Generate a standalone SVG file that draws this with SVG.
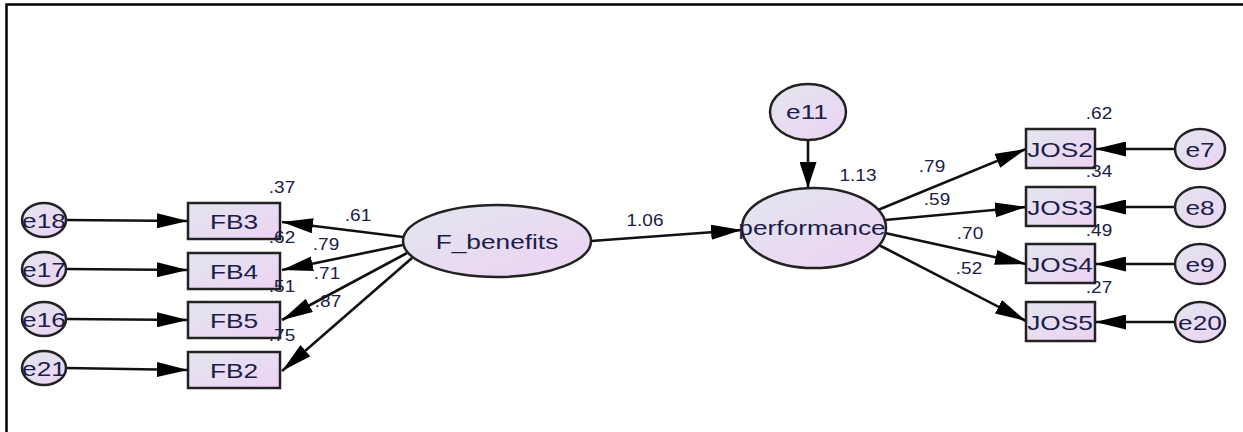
<svg xmlns="http://www.w3.org/2000/svg" width="1243" height="432" viewBox="0 0 1243 432">
  <defs>
    <linearGradient id="fillGrad" x1="0" y1="0" x2="1" y2="1">
      <stop offset="0" stop-color="#e2e6ee"/>
      <stop offset="1" stop-color="#edd2f4"/>
    </linearGradient>
    <marker id="arr" markerUnits="userSpaceOnUse" markerWidth="31" markerHeight="15" refX="31" refY="7.5" orient="auto">
      <path d="M0,0 L31,7.5 L0,15 z" fill="#000"/>
    </marker>
    <marker id="arrV" markerUnits="userSpaceOnUse" markerWidth="26" markerHeight="17" refX="26" refY="8.5" orient="auto">
      <path d="M0,0 L26,8.5 L0,17 z" fill="#000"/>
    </marker>
  </defs>
  <style>
    .shape { fill: url(#fillGrad); stroke: #222; stroke-width: 2.5; }
    .lbl { font-family: "Liberation Sans", Arial, sans-serif; font-size: 21px; fill: #1a2048; text-anchor: middle; }
    .num { font-family: "Liberation Sans", Arial, sans-serif; font-size: 16.5px; fill: #1a2048; text-anchor: middle; }
    .path { stroke: #111; stroke-width: 2.6; fill: none; marker-end: url(#arr); }
    .pathV { stroke: #111; stroke-width: 2.6; fill: none; marker-end: url(#arrV); }
    .frame { stroke: #000; stroke-width: 2.5; fill: none; }
  </style>

  <rect width="1243" height="432" fill="#fff"/>
  <!-- page frame (top and left edges) -->
  <path class="frame" d="M6.5,432 L6.5,4.5 L1243,4.5"/>

  <!-- connectors -->
  <g id="connectors">
    <line class="path" x1="66" y1="220" x2="188" y2="221"/>
    <line class="path" x1="66" y1="269" x2="188" y2="270"/>
    <line class="path" x1="66" y1="319" x2="188" y2="320"/>
    <line class="path" x1="66" y1="368" x2="188" y2="370"/>

    <line class="path" x1="403" y1="237" x2="282" y2="222"/>
    <line class="path" x1="403" y1="245" x2="282" y2="270"/>
    <line class="path" x1="407" y1="253" x2="282" y2="320"/>
    <line class="path" x1="412" y1="258" x2="282" y2="371"/>

    <line class="path" x1="591" y1="241" x2="742" y2="230"/>
    <line class="pathV" x1="808" y1="140" x2="808" y2="188"/>

    <line class="path" x1="873" y1="212" x2="1026" y2="149"/>
    <line class="path" x1="885" y1="220" x2="1026" y2="207"/>
    <line class="path" x1="885" y1="233" x2="1026" y2="264"/>
    <line class="path" x1="875" y1="243" x2="1026" y2="321"/>

    <line class="path" x1="1175" y1="149" x2="1095" y2="149"/>
    <line class="path" x1="1175" y1="207" x2="1095" y2="207"/>
    <line class="path" x1="1175" y1="264" x2="1095" y2="264"/>
    <line class="path" x1="1175" y1="322" x2="1095" y2="322"/>
  </g>

  <!-- left error terms -->
  <g id="e18"><ellipse class="shape" cx="44" cy="220" rx="22" ry="17"/><text class="lbl" transform="translate(44,227.5) scale(1.25,1)">e18</text></g>
  <g id="e17"><ellipse class="shape" cx="44" cy="269" rx="22" ry="17"/><text class="lbl" transform="translate(44,276.5) scale(1.25,1)">e17</text></g>
  <g id="e16"><ellipse class="shape" cx="44" cy="319" rx="22" ry="17"/><text class="lbl" transform="translate(44,326.5) scale(1.25,1)">e16</text></g>
  <g id="e21"><ellipse class="shape" cx="44" cy="368" rx="22" ry="17"/><text class="lbl" transform="translate(44,375.5) scale(1.25,1)">e21</text></g>

  <!-- F_benefits indicators -->
  <g id="FB3"><rect class="shape" x="188" y="203" width="92" height="36"/><text class="lbl" transform="translate(234,228.5) scale(1.25,1)">FB3</text><text class="num" transform="translate(282,193) scale(1.15,1)">.37</text></g>
  <g id="FB4"><rect class="shape" x="188" y="253" width="92" height="36"/><text class="lbl" transform="translate(234,278.5) scale(1.25,1)">FB4</text><text class="num" transform="translate(282,243) scale(1.15,1)">.62</text></g>
  <g id="FB5"><rect class="shape" x="188" y="302" width="92" height="36"/><text class="lbl" transform="translate(234,327.5) scale(1.25,1)">FB5</text><text class="num" transform="translate(282,292) scale(1.15,1)">.51</text></g>
  <g id="FB2"><rect class="shape" x="188" y="352" width="92" height="36"/><text class="lbl" transform="translate(234,377.5) scale(1.25,1)">FB2</text><text class="num" transform="translate(282,341) scale(1.15,1)">.75</text></g>

  <!-- latent factor -->
  <g id="F_benefits"><ellipse class="shape" cx="497" cy="241" rx="94" ry="36"/><text class="lbl" transform="translate(497,249) scale(1.25,1)">F_benefits</text></g>

  <!-- loadings on F_benefits -->
  <g id="loadings-left">
    <text class="num" transform="translate(358,221) scale(1.15,1)">.61</text>
    <text class="num" transform="translate(326,250) scale(1.15,1)">.79</text>
    <text class="num" transform="translate(327,279) scale(1.15,1)">.71</text>
    <text class="num" transform="translate(328,307) scale(1.15,1)">.87</text>
    <text class="num" transform="translate(645,226) scale(1.15,1)">1.06</text>
  </g>

  <!-- outcome factor -->
  <g id="e11"><ellipse class="shape" cx="808" cy="112" rx="38" ry="28"/><text class="lbl" transform="translate(807,119) scale(1.25,1)">e11</text></g>
  <g id="performance"><ellipse class="shape" cx="814" cy="228" rx="72" ry="40"/><text class="lbl" transform="translate(812,235) scale(1.25,1)">performance</text><text class="num" transform="translate(858,181) scale(1.15,1)">1.13</text></g>

  <!-- loadings on performance -->
  <g id="loadings-right">
    <text class="num" transform="translate(932,172) scale(1.15,1)">.79</text>
    <text class="num" transform="translate(937,205) scale(1.15,1)">.59</text>
    <text class="num" transform="translate(970,239) scale(1.15,1)">.70</text>
    <text class="num" transform="translate(969,274) scale(1.15,1)">.52</text>
  </g>

  <!-- performance indicators -->
  <g id="JOS2"><rect class="shape" x="1026" y="129" width="69" height="39"/><text class="lbl" transform="translate(1060,156.5) scale(1.25,1)">JOS2</text><text class="num" transform="translate(1099,119) scale(1.15,1)">.62</text></g>
  <g id="JOS3"><rect class="shape" x="1026" y="187" width="69" height="39"/><text class="lbl" transform="translate(1060,214.5) scale(1.25,1)">JOS3</text><text class="num" transform="translate(1099,177) scale(1.15,1)">.34</text></g>
  <g id="JOS4"><rect class="shape" x="1026" y="244" width="69" height="39"/><text class="lbl" transform="translate(1060,271.5) scale(1.25,1)">JOS4</text><text class="num" transform="translate(1099,236) scale(1.15,1)">.49</text></g>
  <g id="JOS5"><rect class="shape" x="1026" y="302" width="69" height="39"/><text class="lbl" transform="translate(1060,329.5) scale(1.25,1)">JOS5</text><text class="num" transform="translate(1099,293) scale(1.15,1)">.27</text></g>

  <!-- right error terms -->
  <g id="e7"><ellipse class="shape" cx="1200" cy="149" rx="25" ry="20"/><text class="lbl" transform="translate(1200,156.5) scale(1.25,1)">e7</text></g>
  <g id="e8"><ellipse class="shape" cx="1200" cy="207" rx="25" ry="20"/><text class="lbl" transform="translate(1200,214.5) scale(1.25,1)">e8</text></g>
  <g id="e9"><ellipse class="shape" cx="1200" cy="264" rx="25" ry="20"/><text class="lbl" transform="translate(1200,271.5) scale(1.25,1)">e9</text></g>
  <g id="e20"><ellipse class="shape" cx="1200" cy="322" rx="25" ry="20"/><text class="lbl" transform="translate(1200,329.5) scale(1.25,1)">e20</text></g>
</svg>
